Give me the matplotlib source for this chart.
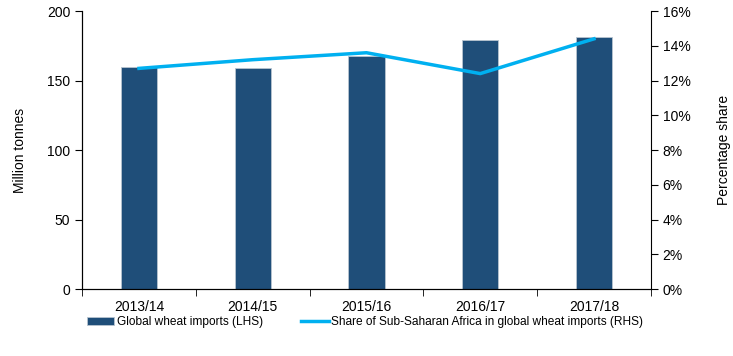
import matplotlib.pyplot as plt
from matplotlib.ticker import PercentFormatter, FixedLocator

plt.rcParams['font.family'] = ['Liberation Sans', 'DejaVu Sans']

seasons = ["2013/14", "2014/15", "2015/16", "2016/17", "2017/18"]
imports_mt = [160, 159, 168, 179.5, 181.5]
ssa_share = [12.7, 13.2, 13.6, 12.4, 14.4]

bar_color = "#1F4E79"
line_color = "#00B0F0"

fig = plt.figure(figsize=(7.33, 3.56), dpi=100)
ax = fig.add_axes([0.112, 0.188, 0.776, 0.781])
ax2 = ax.twinx()

x = range(len(seasons))
bars = ax.bar(x, imports_mt, width=0.32, color=bar_color, edgecolor="#B8C4D0", linewidth=0.6,
              label="Global wheat imports (LHS)")
line, = ax2.plot(x, ssa_share, color=line_color, linewidth=2.5,
                 label="Share of Sub-Saharan Africa in global wheat imports (RHS)")

ax.set_xlim(-0.5, len(seasons) - 0.5)
ax.set_ylim(0, 200)
ax.set_yticks(range(0, 201, 50))
ax2.set_ylim(0, 16)
ax2.set_yticks(range(0, 17, 2))
ax2.yaxis.set_major_formatter(PercentFormatter(decimals=0))

ax.set_xticks(list(x))
ax.set_xticklabels(seasons)
ax.xaxis.set_minor_locator(FixedLocator([i - 0.5 for i in range(len(seasons) + 1)]))
ax.tick_params(axis="x", which="major", length=0, pad=8)
ax.tick_params(axis="x", which="minor", length=5, direction="out")

for a in (ax, ax2):
    a.spines["top"].set_visible(False)
    a.tick_params(axis="y", length=5, direction="out", labelsize=10)
ax.tick_params(axis="x", labelsize=10)
ax.spines["right"].set_visible(False)

ax.set_ylabel("Million tonnes", fontsize=10, labelpad=14)
ax2.set_ylabel("Percentage share", fontsize=10, labelpad=19)

fig.legend(handles=[bars, line], loc="center left", bbox_to_anchor=(0.104, 0.095),
           ncol=2, frameon=False, fontsize=8.6, columnspacing=3.2, handlelength=2.3,
           handletextpad=0.2)

fig.savefig("out.png", dpi=100)
